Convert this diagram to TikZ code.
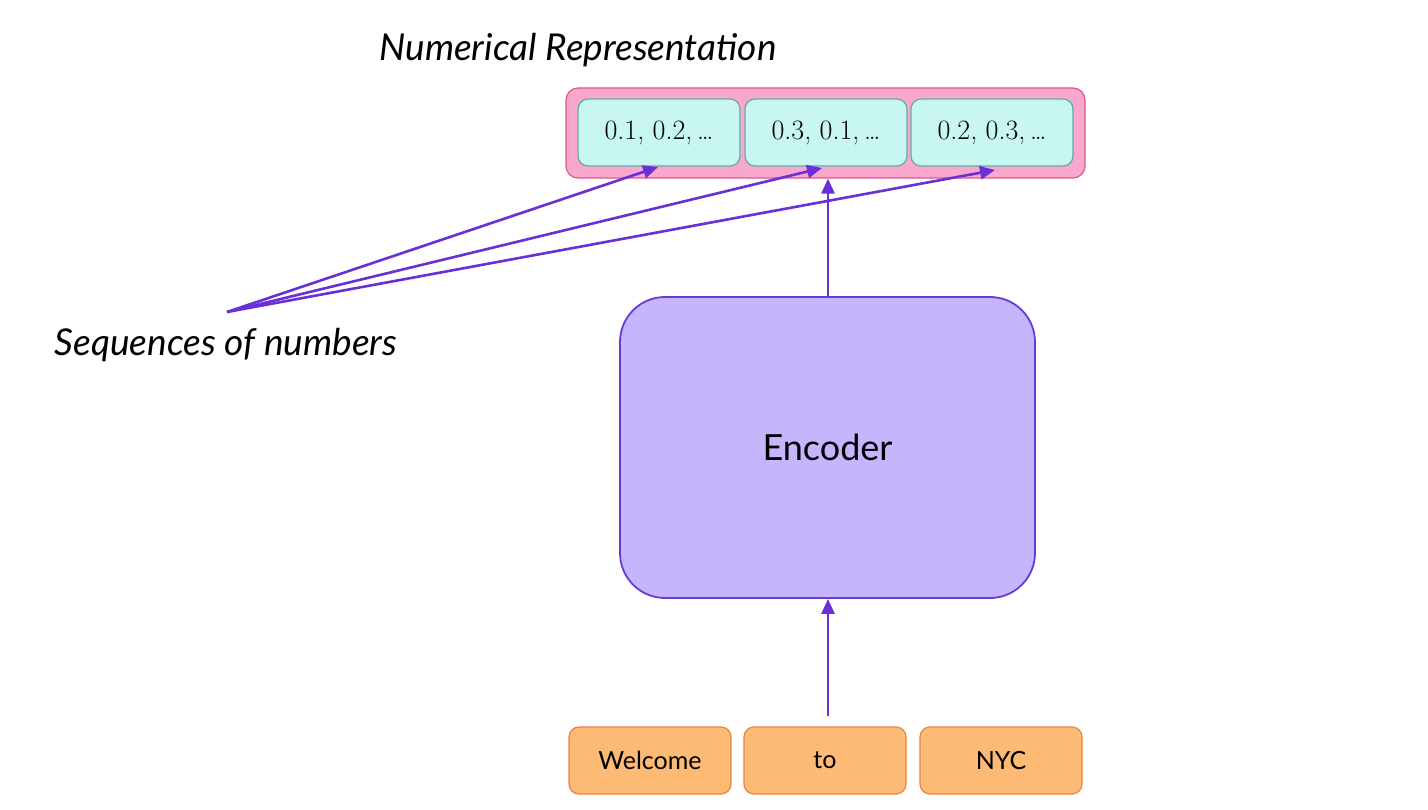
\documentclass[tikz,border=0pt]{standalone}
\usepackage{fontspec}
\setmainfont{Lato}
\newfontfamily\numfont{Latin Modern Roman}
\usetikzlibrary{arrows.meta}
\definecolor{pinkfill}{HTML}{F7A8CC}
\definecolor{pinkline}{HTML}{E0558A}
\definecolor{cyanfill}{HTML}{C8F7F2}
\definecolor{cyanline}{HTML}{62AAAA}
\definecolor{encfill}{HTML}{C4B5FD}
\definecolor{encline}{HTML}{6A3BD4}
\definecolor{orfill}{HTML}{FDBA74}
\definecolor{orline}{HTML}{E8853C}
\definecolor{arrowc}{HTML}{6B2FD8}
\tikzset{
  numbox/.style={draw=cyanline, fill=cyanfill, line width=1.2pt, rounded corners=10pt, minimum width=162pt, minimum height=67pt, inner sep=0pt, font=\numfont\fontsize{28}{32}\selectfont},
  tokbox/.style={draw=orline, fill=orfill, line width=1.2pt, rounded corners=10pt, minimum width=162pt, minimum height=67pt, inner sep=0pt, font=\fontsize{25}{28}\selectfont},
  outerbox/.style={draw=pinkline, fill=pinkfill, line width=1.2pt, rounded corners=12pt, minimum width=519pt, minimum height=90pt, inner sep=0pt},
  encbox/.style={draw=encline, fill=encfill, line width=1.8pt, rounded corners=45pt, minimum width=415pt, minimum height=301pt, inner sep=0pt, font=\fontsize{36}{40}\selectfont},
  label/.style={font=\itshape\fontsize{37}{42}\selectfont, inner sep=0pt},
  conn/.style={draw=arrowc, line width=2.6pt, -{Triangle[length=15pt,width=13pt]}},
}
\begin{document}
\begin{tikzpicture}[x=1pt,y=-1pt]
\useasboundingbox[fill=white] (0,0) rectangle (1428,810);
\node[outerbox] (outer) at (825.5,133) {};
\node[numbox] (n1) at (659,132.5) {0.1, 0.2,\,\ldots};
\node[numbox] (n2) at (826,132.5) {0.3, 0.1,\,\ldots};
\node[numbox] (n3) at (992,132.5) {0.2, 0.3,\,\ldots};
\node[encbox] (enc) at (827.5,447.5) {Encoder};
\node[tokbox] (t1) at (650,760.5) {Welcome};
\node[tokbox] (t2) at (825,760.5) {to};
\node[tokbox] (t3) at (1001,760.5) {NYC};
\node[label] (numrep) at (578,50) {Numerical Representation};
\node[label] (seq) at (226,345) {Sequences of numbers};
\coordinate (src) at (227,312);
\coordinate (tokin) at (828,716);
\coordinate (a1) at (658,167);
\coordinate (a2) at (822,168);
\coordinate (a3) at (995,170);
\draw[conn] (src) -- (a1);
\draw[conn] (src) -- (a2);
\draw[conn] (src) -- (a3);
\draw[conn] (enc.north -| 828,0) -- (outer.south -| 828,0);
\draw[conn] (tokin) -- (enc.south -| tokin);
\end{tikzpicture}
\end{document}
